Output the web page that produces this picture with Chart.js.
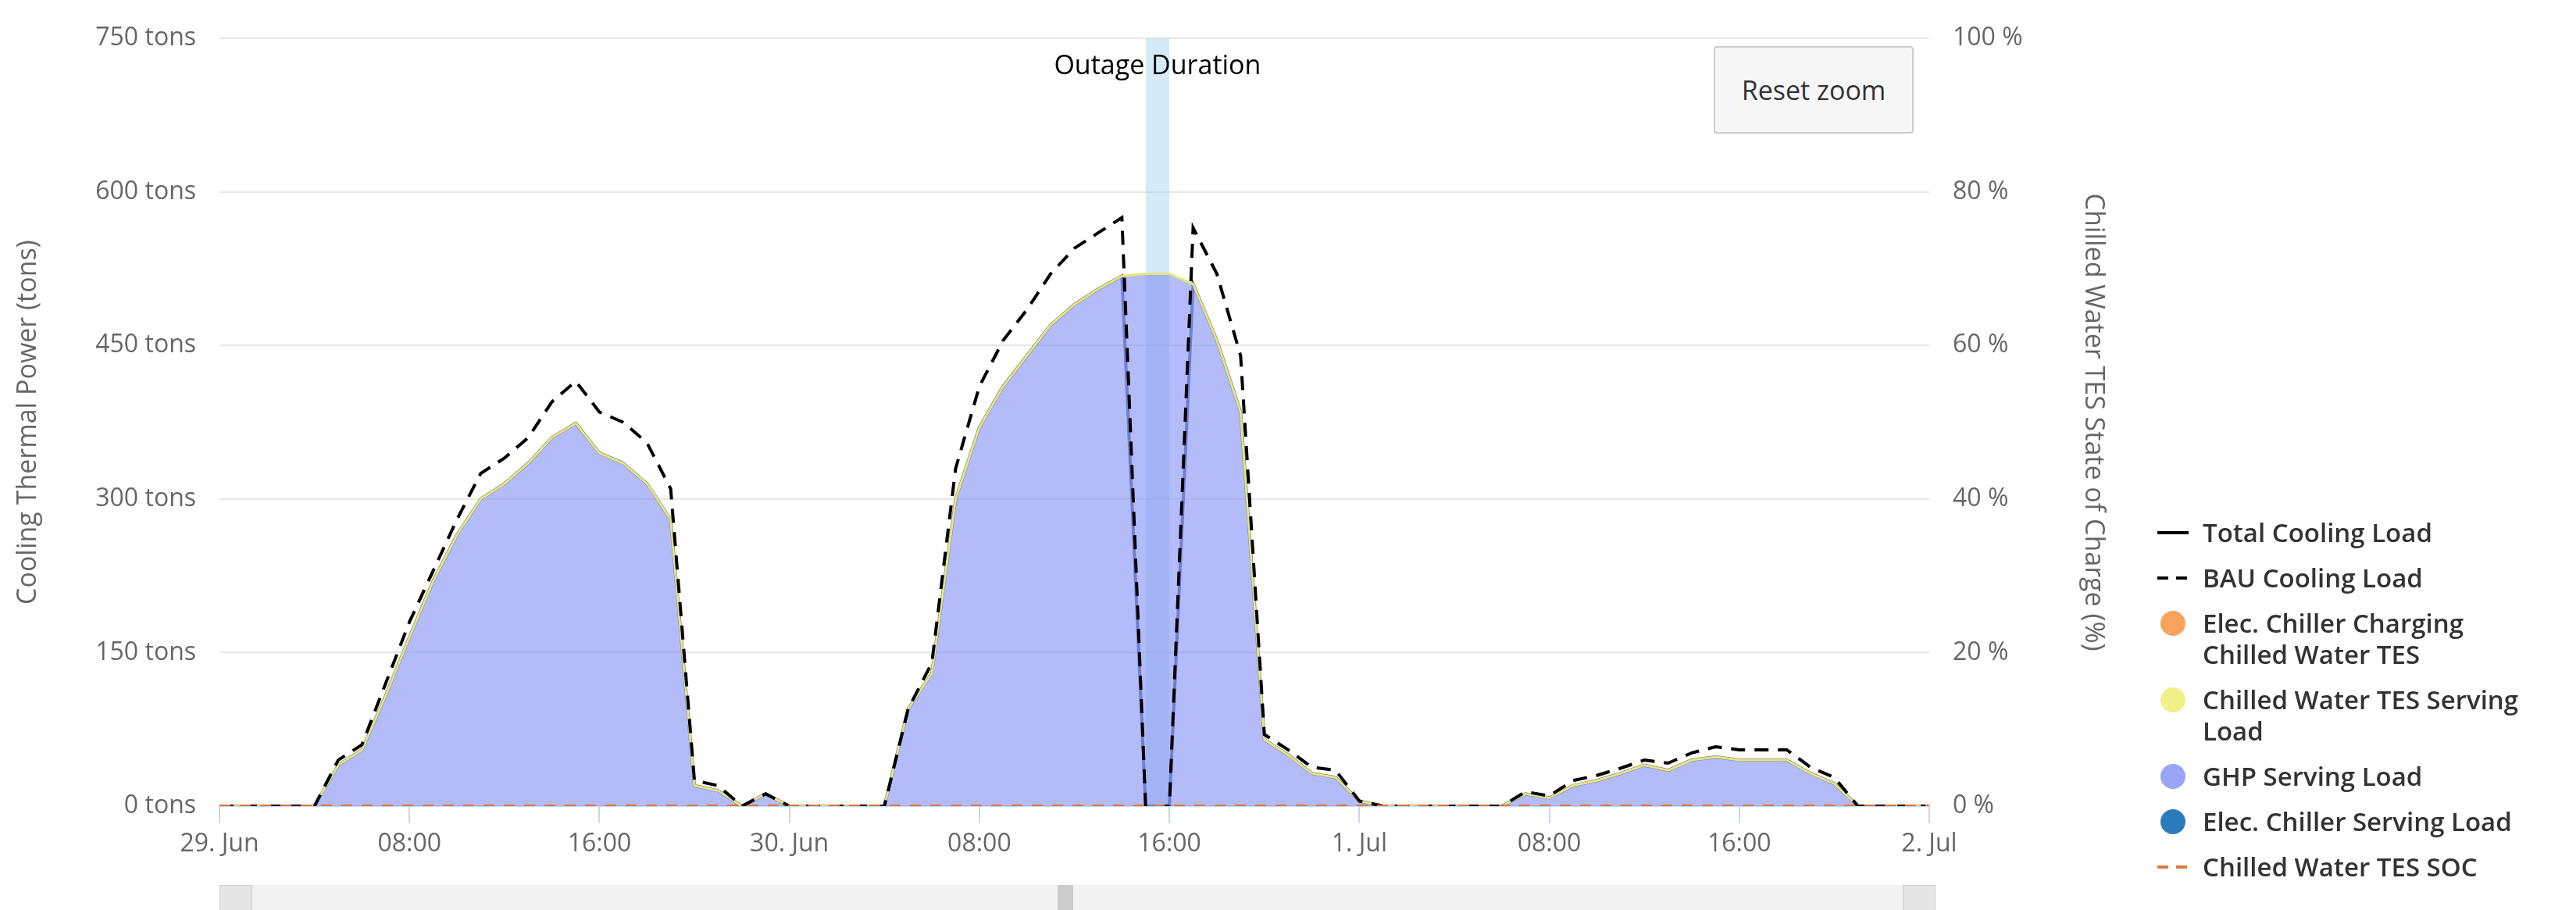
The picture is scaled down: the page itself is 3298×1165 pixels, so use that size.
<!DOCTYPE html>
<html><head><meta charset="utf-8">
<script src="https://cdn.jsdelivr.net/npm/chart.js@4"></script>
<style>
body{margin:0;width:3298px;height:1165px;overflow:hidden;background:#fff;font-family:"Open Sans",sans-serif;}
#wrap{position:absolute;left:0;top:0;width:3298px;height:1165px;}
#reset{position:absolute;left:2194px;top:59px;width:256px;height:112px;background:#f7f7f7;border:2px solid #ccc;border-radius:4px;box-sizing:border-box;font-size:34px;color:#333;display:flex;align-items:center;justify-content:center;}
#legend{position:absolute;left:2762px;top:662px;font-size:33px;font-weight:600;color:#333;line-height:40px;}
.li{display:flex;align-items:flex-start;margin-bottom:18px;}
.sym{width:44px;height:40px;position:relative;flex:none;margin-right:14px;}
#scroll{position:absolute;left:281px;top:1133px;width:2197px;height:32px;background:#f2f2f2;}
</style></head><body>
<div id="wrap"><canvas id="c" width="3298" height="1165"></canvas></div>
<div id="reset">Reset zoom</div>
<div id="scroll"><div style="position:absolute;left:0;top:0;width:40px;height:32px;background:#e6e6e6;border:1px solid #ccc"></div><div style="position:absolute;left:1073px;top:0;width:20px;height:32px;background:#ccc"></div><div style="position:absolute;right:0;top:0;width:40px;height:32px;background:#e6e6e6;border:1px solid #ccc"></div></div>
<div id="legend"></div>
<script>
const hours = Array.from({length:73},(_,i)=>i);
const xTickLabels = {0:"29. Jun",8:"08:00",16:"16:00",24:"30. Jun",32:"08:00",40:"16:00",48:"1. Jul",56:"08:00",64:"16:00",72:"2. Jul"};
const ghpServing = [0,0,0,0,0,40,55,108,165,220,265,300,315,335,360,374,345,335,315,280,20,15,0,12,
 0,0,0,0,0,95,130,300,370,410,440,470,490,505,518,520,520,510,455,385,65,50,32,28,
 5,0,0,0,0,0,0,12,8,20,25,32,40,35,45,48,45,45,45,32,22,0,0,0,0];
const tesServing = new Array(73).fill(0);
const totalLoad = ghpServing.map((v,i)=> (i===39||i===40)?0:v);
const bauLoad = [0,0,0,0,0,45,60,120,180,230,280,325,340,360,395,415,385,375,355,310,25,20,0,12,
 0,0,0,0,0,95,140,330,410,455,485,520,545,560,575,0,0,565,520,440,70,55,38,35,
 5,0,0,0,0,0,0,14,10,25,30,37,45,42,52,58,55,55,55,38,28,0,0,0,0];
const tesSOC = new Array(73).fill(0);
const outage = [39,40];

const pts = a => a.map((v,i)=>({x:hours[i],y:v}));
const tesTop = ghpServing.map((v,i)=>v+tesServing[i]);

const bandPlugin = {id:'band',beforeDatasetsDraw(ch){
  const {ctx,chartArea:a,scales:{x}}=ch;
  const x0=x.getPixelForValue(outage[0]),x1=x.getPixelForValue(outage[1]);
  ctx.save();ctx.fillStyle='rgba(173,216,240,0.5)';ctx.fillRect(x0,a.top,x1-x0,a.bottom-a.top);
  ctx.fillStyle='#000';ctx.font='34px "Open Sans"';ctx.textAlign='center';ctx.textBaseline='middle';
  ctx.fillText('Outage Duration',(x0+x1)/2,a.top+36);ctx.restore();}};

new Chart(document.getElementById('c'),{
 type:'line',
 data:{datasets:[
  {label:'Total Cooling Load',data:pts(totalLoad),borderColor:'#5d6496',borderWidth:4,pointRadius:0,fill:false,order:5},
  {label:'GHP Serving Load',data:pts(ghpServing),borderWidth:0,backgroundColor:'rgba(128,143,245,0.6)',pointRadius:0,fill:'origin',order:4},
  {label:'Chilled Water TES Serving Load',data:pts(tesTop),borderColor:'#e6e67a',borderWidth:3,pointRadius:0,fill:false,order:3},
  {label:'BAU Cooling Load',data:pts(bauLoad),borderColor:'#000',borderWidth:4,borderDash:[18,12],pointRadius:0,fill:false,order:2},
  {label:'Chilled Water TES SOC',data:pts(tesSOC),yAxisID:'y1',borderColor:'#d9793b',borderWidth:4,borderDash:[14,12],pointRadius:0,fill:false,order:1}
 ]},
 options:{responsive:false,animation:false,
  layout:{padding:{top:25,right:598,bottom:0,left:0}},
  plugins:{legend:{display:false},tooltip:{enabled:false}},
  scales:{
   x:{type:'linear',min:0,max:72,afterFit(s){s.height=133;},
     ticks:{stepSize:8,autoSkip:false,color:'#666',font:{size:32,family:'Open Sans'},padding:8,callback:v=>xTickLabels[v]??''},
     grid:{drawOnChartArea:false,drawTicks:true,tickLength:22,color:'#ccd6eb',lineWidth:2},border:{color:'#ccd6eb',width:2}},
   y:{min:0,max:750,afterFit(s){s.width=281;},
     ticks:{stepSize:150,color:'#666',font:{size:32,family:'Open Sans'},callback:v=>v+' tons',padding:30},
     grid:{color:'#e6e6e6',lineWidth:2,drawTicks:false},border:{display:false},
     title:{display:true,text:'Cooling Thermal Power (tons)',color:'#666',font:{size:34,family:'Open Sans'},padding:{top:16,bottom:18}}},
   y1:{position:'right',min:0,max:100,afterFit(s){s.width=230;},
     ticks:{stepSize:20,color:'#666',font:{size:32,family:'Open Sans'},callback:v=>v+' %',padding:30},
     grid:{drawOnChartArea:false,drawTicks:false},border:{display:false},
     title:{display:true,text:'Chilled Water TES State of Charge (%)',color:'#666',font:{size:34,family:'Open Sans'},padding:{top:0}}}
  }},
 plugins:[bandPlugin]
});

const legendItems=[
 ['line','#000','Total Cooling Load'],['dash','#000','BAU Cooling Load'],
 ['dot','#f7a35c','Elec. Chiller Charging<br>Chilled Water TES'],['dot','#f1f18a','Chilled Water TES Serving<br>Load'],
 ['dot','#9aa5f7','GHP Serving Load'],['dot','#2b7bba','Elec. Chiller Serving Load'],['dash','#d9793b','Chilled Water TES SOC']];
document.getElementById('legend').innerHTML=legendItems.map(([t,c,txt])=>{
 let s='';
 if(t==='line')s=`<div style="position:absolute;left:0;top:18px;width:40px;height:4px;background:${c}"></div>`;
 if(t==='dash')s=`<div style="position:absolute;left:0;top:18px;width:14px;height:4px;background:${c}"></div><div style="position:absolute;left:24px;top:18px;width:14px;height:4px;background:${c}"></div>`;
 if(t==='dot')s=`<div style="position:absolute;left:4px;top:4px;width:32px;height:32px;border-radius:50%;background:${c}"></div>`;
 return `<div class="li"><div class="sym">${s}</div><div>${txt}</div></div>`;}).join('');
</script></body></html>
